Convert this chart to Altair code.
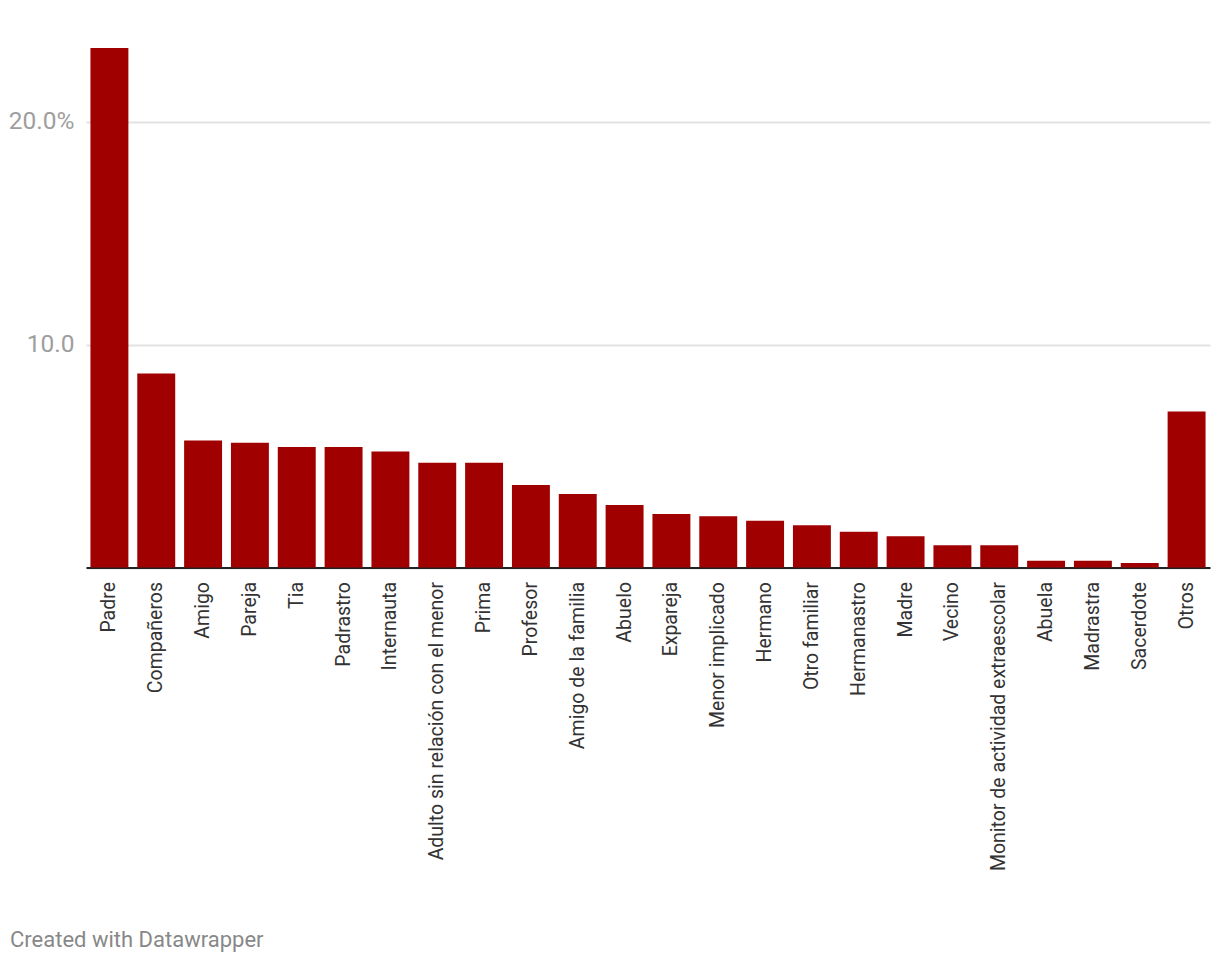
import altair as alt
import pandas as pd

categories = ["Padre", "Compañeros", "Amigo", "Pareja", "Tia", "Padrastro", "Internauta",
              "Adulto sin relación con el menor", "Prima", "Profesor", "Amigo de la familia",
              "Abuelo", "Expareja", "Menor implicado", "Hermano", "Otro familiar", "Hermanastro",
              "Madre", "Vecino", "Monitor de actividad extraescolar", "Abuela", "Madrastra",
              "Sacerdote", "Otros"]
values = [23.3, 8.7, 5.7, 5.6, 5.4, 5.4, 5.2, 4.7, 4.7, 3.7, 3.3, 2.8, 2.4, 2.3, 2.1, 1.9,
          1.6, 1.4, 1.0, 1.0, 0.3, 0.3, 0.2, 7.0]
y_ticks = [0, 10, 20]
footer = ["Created with Datawrapper"]

df = pd.DataFrame({"cat": categories, "val": values})
foot = pd.DataFrame({"t": footer})

bars = alt.Chart(df).mark_bar(color="#a00000").encode(
    x=alt.X("cat:N", sort=categories,
            scale=alt.Scale(paddingInner=0.19, paddingOuter=0.095),
            axis=alt.Axis(title=None, labelAngle=270, labelAlign="right", labelBaseline="middle",
                          labelFont="Roboto", labelFontSize=19.5, labelColor="#333333",
                          labelPadding=14, ticks=False, domain=True, domainColor="#222222",
                          domainWidth=2, grid=False, labelLimit=400)),
    y=alt.Y("val:Q", scale=alt.Scale(domain=[0, 23.3], nice=False),
            axis=alt.Axis(title=None, values=y_ticks, grid=True, gridColor="#e2e2e2",
                          gridWidth=2, domain=False, ticks=False,
                          labelExpr="datum.value == 20 ? '20.0%' : (datum.value == 10 ? '10.0' : '')",
                          labelFont="Roboto", labelFontSize=24.5, labelColor="#9e9e9e",
                          labelPadding=12)),
)

note = alt.Chart(foot).mark_text(align="left", baseline="middle", font="Roboto",
                                  fontSize=22, color="#888888").encode(
    text="t:N", x=alt.value(-76), y=alt.value(892)
)

chart = alt.layer(bars, note).properties(
    width=1124, height=519.5,
    autosize=alt.AutoSizeParams(type="none"),
    padding={"left": 78, "top": 40, "right": 2, "bottom": 400},
).configure_view(stroke=None)

chart.save("out.html", embed_options={"renderer": "svg", "actions": False})
